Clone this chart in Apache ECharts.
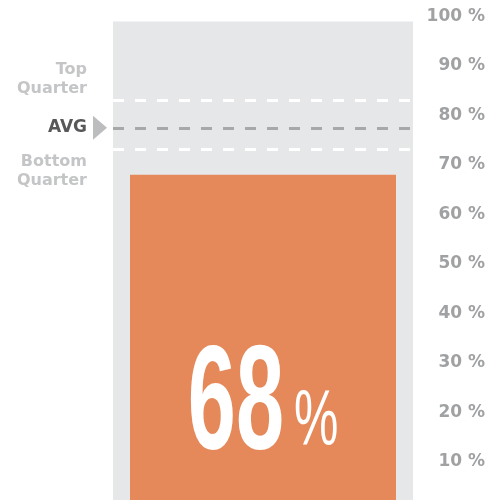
<!DOCTYPE html>
<html>
<head>
<meta charset="utf-8">
<title>68 %</title>
<script src="https://cdn.jsdelivr.net/npm/echarts@6/dist/echarts.min.js"></script>
<style>
    html, body { margin: 0; padding: 0; background: #fff; }
    #main { width: 503px; height: 500px; }
</style>
</head>
<body>
<div id="main"></div>
<script type="text/javascript">
    // data
    var categories = ['Score'];
    var scoreValues = [68];
    var rangeValues = [99];
    var markNames = ['Top\nQuarter', 'AVG', 'Bottom\nQuarter'];
    var markValues = [83.1, 77.5, 73.2];

    var font = 'DejaVu Sans';
    var chart = echarts.init(document.getElementById('main'));

    // rich label text: spacer line pushes the two-line labels off the dashed line
    function markLabel(i) {
        var parts = markNames[i].split('\n');
        if (i === 0) return '{a|' + parts[0] + '}\n{a|' + parts[1] + '}\n{gap| }';
        if (i === 2) return '{gap2| }\n{a|' + parts[0] + '}\n{a|' + parts[1] + '}';
        return '{avg|' + parts[0] + '}';
    }

    var markData = markValues.map(function (v, i) {
        var isAvg = i === 1;
        return {
            yAxis: v,
            lineStyle: { color: isAvg ? '#a7a8aa' : '#ffffff' },
            label: { formatter: markLabel(i) }
        };
    });

    chart.setOption({
        animation: false,
        grid: { left: 113, width: 300, top: 16.5, height: 494.7, outerBoundsMode: 'none', containLabel: false },
        xAxis: [
            { type: 'category', data: categories, show: false },
            { type: 'category', data: categories, show: false }
        ],
        yAxis: {
            type: 'value',
            position: 'right',
            min: 0,
            max: 100,
            interval: 10,
            axisLine: { show: false },
            axisTick: { show: false },
            splitLine: { show: false },
            axisLabel: {
                margin: 72,
                align: 'right',
                color: '#a0a1a3',
                fontFamily: font,
                fontWeight: 'bold',
                fontSize: 17,
                formatter: function (v) { return v === 0 ? '' : v + ' %'; }
            }
        },
        series: [{
            type: 'bar',
            xAxisIndex: 0,
            data: rangeValues,
            barWidth: 300,
            itemStyle: { color: '#e6e7e8' },
            silent: true
        }, {
            type: 'bar',
            xAxisIndex: 1,
            data: scoreValues,
            barWidth: 266,
            itemStyle: { color: '#e5895a' },
            silent: true,
            markLine: {
                silent: true,
                symbol: ['none', 'none'],
                lineStyle: { type: [11, 11], width: 3 },
                label: {
                    position: 'start',
                    distance: 26,
                    align: 'right',
                    rich: {
                        a: { fontFamily: font, fontWeight: 'bold', fontSize: 16, lineHeight: 19, color: '#c4c5c7', align: 'right' },
                        avg: { fontFamily: font, fontWeight: 'bold', fontSize: 17, lineHeight: 19, color: '#58585a' },
                        gap: { fontSize: 10, lineHeight: 41 },
                        gap2: { fontSize: 10, lineHeight: 44 }
                    }
                },
                data: markData
            }
        }]
    });

    // AVG arrow and the big value, placed from the axes
    var cx = chart.convertToPixel({ xAxisIndex: 1 }, categories[0]);
    var avgY = chart.convertToPixel({ yAxisIndex: 0 }, markValues[1]);

    chart.setOption({
        graphic: [{
            type: 'polygon',
            z: 100,
            shape: { points: [[93, avgY - 12], [107, avgY], [93, avgY + 12]] },
            style: { fill: '#bcbdbf' },
            silent: true
        }, {
            type: 'text',
            z: 100,
            x: cx + 21,
            y: 408,
            scaleX: 0.58,
            style: {
                text: String(scoreValues[0]),
                font: 'bold 149px "Liberation Sans"',
                fill: '#ffffff',
                align: 'right',
                verticalAlign: 'middle'
            },
            silent: true
        }, {
            type: 'text',
            z: 100,
            x: cx + 31,
            y: 423,
            scaleX: 0.64,
            style: {
                text: '%',
                font: '78px "Liberation Sans"',
                fill: '#ffffff',
                align: 'left',
                verticalAlign: 'middle'
            },
            silent: true
        }]
    });
</script>
</body>
</html>
